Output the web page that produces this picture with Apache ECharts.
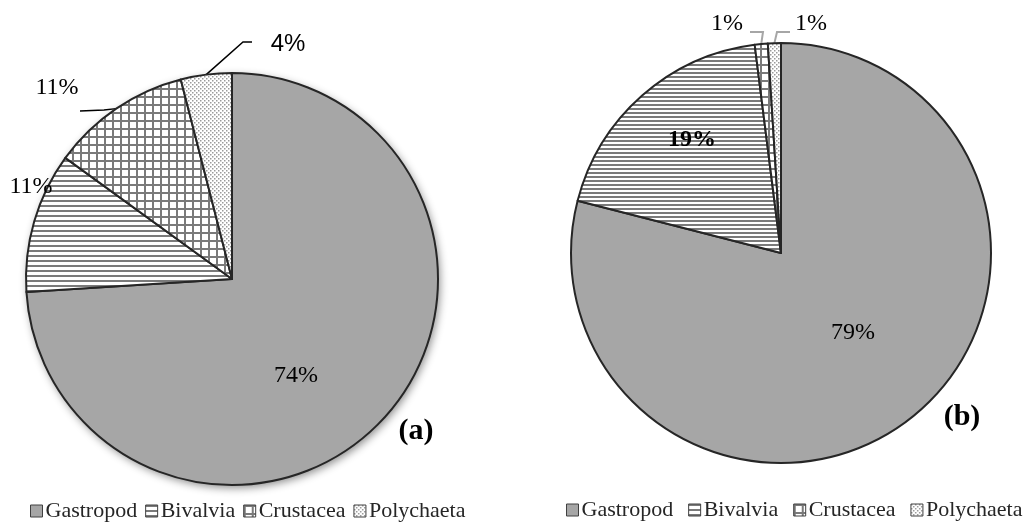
<!DOCTYPE html>
<html>
<head>
<meta charset="utf-8">
<script src="https://cdn.jsdelivr.net/npm/echarts@6/dist/echarts.min.js"></script>
<style>
  html, body { margin: 0; padding: 0; background: #ffffff; }
  #chart { width: 1028px; height: 525px; }
</style>
</head>
<body>
<div id="chart"></div>
<script>
// Benthic macrofauna composition (% of individuals) at two sites
const groups = ['Gastropod', 'Bivalvia', 'Crustacea', 'Polychaeta'];
const valuesA = [74, 11, 11, 4];
const valuesB = [79, 19, 1, 1];
const panelTags = ['(a)', '(b)'];

// Hatch fills drawn on small tiles and repeated across the slices
function tile(w, h, draw) {
  const c = document.createElement('canvas');
  c.width = w; c.height = h;
  const g = c.getContext('2d');
  g.fillStyle = '#ffffff';
  g.fillRect(0, 0, w, h);
  g.fillStyle = '#7a7a7a';
  draw(g);
  return { image: c, repeat: 'repeat' };
}
const solidGrey = '#a6a6a6';
const stripesWide = tile(5, 5, g => g.fillRect(0, 0, 5, 2));
const stripesTight = tile(4, 4, g => g.fillRect(0, 0, 4, 2));
const grid = tile(8, 8, g => { g.fillRect(0, 0, 8, 2); g.fillRect(0, 0, 2, 8); });
const dots = tile(4, 4, g => { g.fillStyle = '#9a9a9a'; g.fillRect(0, 0, 1.5, 1.5); g.fillRect(2, 2, 1.5, 1.5); });

const fillsA = [solidGrey, stripesWide, grid, dots];
const fillsB = [solidGrey, stripesTight, grid, dots];

const SERIF = '"Liberation Serif", "Times New Roman", serif';
const SANS = '"Liberation Sans", Arial, sans-serif';

// Where each slice's percentage label sits; elbow/end are leader-line bends relative to the label
const spotsA = [
  { x: 296, y: 376 },
  { x: 31, y: 187 },
  { x: 57, y: 88, elbow: [47, 22], end: [23, 23] },
  { x: 288, y: 44, elbow: [-45, -2], end: [-36, -2], sans: true }
];
const spotsB = [
  { x: 853, y: 333 },
  { x: 692, y: 140, bold: true },
  { x: 727, y: 24, elbow: [36, 8], end: [23, 8] },
  { x: 811, y: 24, elbow: [-34, 8], end: [-21, 8] }
];

function buildData(values, fills, spots, lineColor) {
  return groups.map((name, i) => ({
    name: name,
    value: values[i],
    itemStyle: { color: fills[i] },
    label: {
      fontFamily: spots[i].sans ? SANS : SERIF,
      fontWeight: spots[i].bold ? 'bold' : 'normal'
    },
    labelLine: {
      show: !!spots[i].elbow,
      lineStyle: { color: lineColor, width: lineColor === '#000000' ? 1.5 : 2 }
    }
  }));
}

function layoutFor(spots) {
  return function (p) {
    const s = spots[p.dataIndex];
    const out = { x: s.x, y: s.y, align: 'center', verticalAlign: 'middle' };
    if (s.elbow && p.labelLinePoints) {
      out.labelLinePoints = [
        p.labelLinePoints[0],
        [s.x + s.elbow[0], s.y + s.elbow[1]],
        [s.x + s.end[0], s.y + s.end[1]]
      ];
    }
    return out;
  };
}

function pieSeries(center, radius, data, spots) {
  return {
    type: 'pie',
    center: center,
    radius: radius,
    startAngle: 90,
    clockwise: true,
    avoidLabelOverlap: false,
    silent: true,
    z: 2,
    itemStyle: { borderColor: '#262626', borderWidth: 2 },
    label: {
      show: true,
      position: 'outside',
      formatter: '{c}%',
      color: '#000000',
      fontSize: 24
    },
    labelLine: { show: false, smooth: false, length: 10, length2: 10 },
    labelLayout: layoutFor(spots),
    data: data
  };
}

function legendFor(left, top, gap) {
  return {
    data: groups,
    left: left,
    top: top,
    orient: 'horizontal',
    icon: 'rect',
    itemWidth: 12,
    itemHeight: 12,
    itemGap: gap,
    selectedMode: false,
    padding: 0,
    textStyle: { fontFamily: SERIF, fontSize: 22, color: '#262626', padding: [0, 0, 0, -2] },
    itemStyle: { borderColor: '#404040', borderWidth: 1 }
  };
}

const chart = echarts.init(document.getElementById('chart'), null, { renderer: 'canvas' });
chart.setOption({
  animation: false,
  backgroundColor: '#ffffff',
  legend: [legendFor(30, 500, 8), legendFor(566, 499, 15)],
  series: [
    // soft drop shadow under the whole left pie
    {
      type: 'pie',
      center: [232, 279],
      radius: 206,
      silent: true,
      z: 1,
      label: { show: false },
      labelLine: { show: false },
      itemStyle: {
        color: '#ffffff',
        shadowBlur: 9,
        shadowOffsetX: 2,
        shadowOffsetY: 3,
        shadowColor: 'rgba(0,0,0,0.45)'
      },
      data: [{ name: 'outline', value: 1 }]
    },
    pieSeries([232, 279], 206, buildData(valuesA, fillsA, spotsA, '#000000'), spotsA),
    pieSeries([781, 253], 210, buildData(valuesB, fillsB, spotsB, '#a6a6a6'), spotsB)
  ],
  graphic: [
    { type: 'text', x: 416, y: 431, style: { text: panelTags[0], font: 'bold 30px ' + SERIF, fill: '#000000', textAlign: 'center', textVerticalAlign: 'middle' } },
    { type: 'text', x: 962, y: 417, style: { text: panelTags[1], font: 'bold 30px ' + SERIF, fill: '#000000', textAlign: 'center', textVerticalAlign: 'middle' } }
  ]
});
</script>
</body>
</html>
